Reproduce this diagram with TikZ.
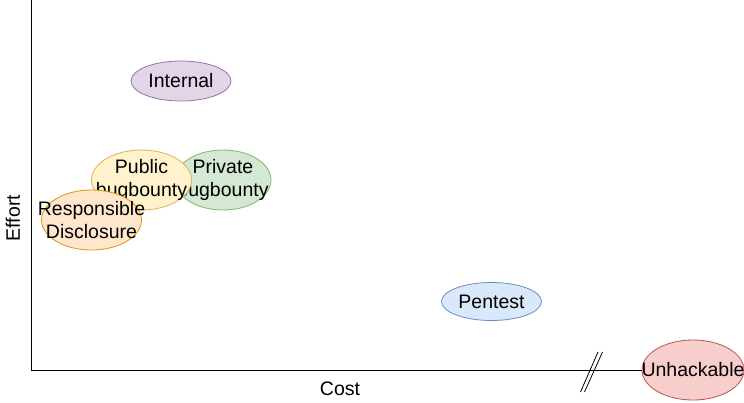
\documentclass[tikz,border=0pt]{standalone}
\usepackage{fontspec}
\setmainfont{Liberation Sans}
\usetikzlibrary{shapes.geometric}
\definecolor{purF}{HTML}{E1D5E7}\definecolor{purD}{HTML}{9673A6}
\definecolor{yelF}{HTML}{FFF2CC}\definecolor{yelD}{HTML}{D6B656}
\definecolor{grnF}{HTML}{D5E8D4}\definecolor{grnD}{HTML}{82B366}
\definecolor{oraF}{HTML}{FFE6CC}\definecolor{oraD}{HTML}{D79B00}
\definecolor{bluF}{HTML}{DAE8FC}\definecolor{bluD}{HTML}{6C8EBF}
\definecolor{redF}{HTML}{F8CECC}\definecolor{redD}{HTML}{B85450}
\begin{document}
\begin{tikzpicture}[x=1pt,y=-1pt,
  ell/.style={ellipse,draw,line width=0.8pt,inner sep=0pt,minimum width=100pt,minimum height=60pt},
  lbl/.style={font=\fontsize{19.5}{23}\selectfont,align=center,inner sep=0pt},
  axis/.style={line width=1pt,black}]
\useasboundingbox (0,0) rectangle (744,402);
% axes
\coordinate (top) at (31,0);
\coordinate (orig) at (31,370);
% ellipses
\node[ell,fill=purF,draw=purD,minimum height=40pt] (int) at (181,81) {};
\node[lbl] at (int) {Internal};
\node[ell,fill=grnF,draw=grnD,minimum width=96pt] (priv) at (223,180) {};
\node[lbl] at (priv) {Private\\bugbounty};
\node[ell,fill=yelF,draw=yelD] (pub) at (141.5,180) {};
\node[lbl] at (pub) {Public\\bugbounty};
\node[ell,fill=oraF,draw=oraD] (resp) at (91.5,220) {};
\node[lbl] at (resp) {Responsible\\Disclosure};
\node[ell,fill=bluF,draw=bluD,minimum height=38pt] (pen) at (491.5,301.5) {};
\node[lbl] at (pen) {Pentest};
\node[ell,fill=redF,draw=redD,minimum width=102pt] (unh) at (693,370) {};
\draw[axis] (top) -- (orig) -- (unh.west);
\node[lbl] at (unh) {Unhackable};
% axis break
\coordinate (b1a) at (580.5,392); \coordinate (b1b) at (598,352);
\coordinate (b2a) at (584.5,392); \coordinate (b2b) at (602.5,352);
\draw[line width=0.8pt] (b1a) -- (b1b);
\draw[line width=0.8pt] (b2a) -- (b2b);
% axis labels
\node[lbl,rotate=90] (effort) at (13,218) {Effort};
\node[lbl] (cost) at (340,389) {Cost};
\end{tikzpicture}
\end{document}
